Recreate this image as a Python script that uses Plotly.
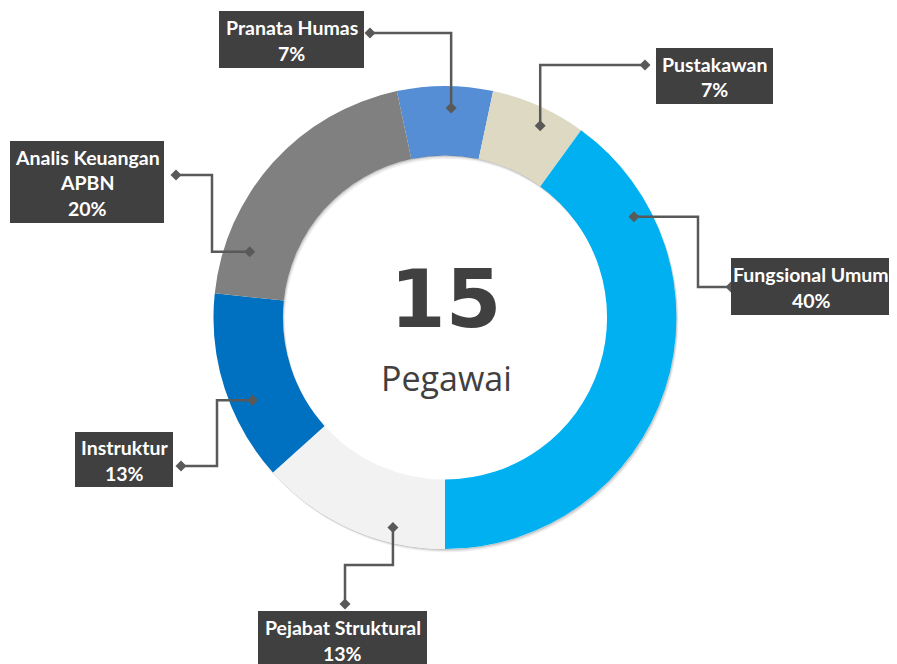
import math
import plotly.graph_objects as go

# ---------------- data ----------------
categories = ["Pranata Humas", "Pustakawan", "Fungsional Umum",
              "Pejabat Struktural", "Instruktur", "Analis Keuangan APBN"]
label_lines = [["Pranata Humas"], ["Pustakawan"], ["Fungsional Umum"],
               ["Pejabat Struktural"], ["Instruktur"], ["Analis Keuangan", "APBN"]]
values = [1, 1, 6, 2, 2, 3]
center_unit = "Pegawai"

# ---------------- style / layout ----------------
colors = ["#558ED5", "#DDD9C3", "#00B0F0", "#F2F2F2", "#0070C0", "#808080"]
W, H = 897, 664
OFF = 8  # page body margin of the html page
CX, CY, R = 445, 317.5, 231.5
HOLE = 0.70
BOX_COLOR = "#404040"
LINE_COLOR = "#595959"
TXT_DARK = "#404040"

# label placement (pixels): box, diamond tip, routing, anchor position in slice, text centre x
label_layout = [
    dict(box=(219, 364, 11, 68), tip=(370, 33), route=("vh", None), frac=0.57, rf=0.905, tcx=291.5),
    dict(box=(656, 773, 48, 104), tip=(645, 65), route=("vh", None), frac=0.60, rf=0.925, tcx=714.5),
    dict(box=(731, 905, 258, 315), tip=(731, 287), route=("hvh", 698), frac=0.18, rf=0.925, tcx=811),
    dict(box=(258, 427, 611, 672), tip=(345, 604), route=("vhv", 565), frac=0.29, rf=0.935, tcx=342.5),
    dict(box=(75, 173, 432, 487), tip=(181, 466), route=("hvh", 217), frac=0.39, rf=0.905, tcx=124),
    dict(box=(10, 164, 141, 223), tip=(176, 175), route=("hvh", 212), frac=0.175, rf=0.89, tcx=87),
]


def px(x):
    return (x - OFF) / W


def py(y):
    return 1 - (y - OFF) / H


total = sum(values)
rotation = -180.0 * values[0] / total  # first slice centred at 12 o'clock

fig = go.Figure()
fig.add_trace(go.Pie(
    labels=categories, values=values, sort=False, direction="clockwise",
    rotation=rotation, hole=HOLE, textinfo="none", hoverinfo="label+percent",
    marker=dict(colors=colors, line=dict(width=0)), showlegend=False,
    domain=dict(x=[px(CX - R), px(CX + R)], y=[py(CY + R), py(CY - R)]),
))

shapes = []
annotations = []


def crescent(ax, ay, bx, by, r, n=90):
    """disk a minus disk b (equal radius) as svg path in paper coords"""
    s = math.hypot(bx - ax, by - ay)
    d = math.atan2(by - ay, bx - ax)
    th = math.acos(min(1.0, s / (2 * r)))
    pts = []
    for i in range(n + 1):
        a = d + th + (2 * math.pi - 2 * th) * i / n
        pts.append((ax + r * math.cos(a), ay + r * math.sin(a)))
    for i in range(n + 1):
        a = d + math.pi + th - (2 * th) * i / n
        pts.append((bx + r * math.cos(a), by + r * math.sin(a)))
    return "M " + " L ".join(f"{px(x):.5f},{py(y):.5f}" for x, y in pts) + " Z"


# outer soft shadow (below the ring)
for off, op in [(1.0, 0.10), (2.0, 0.08), (3.2, 0.06)]:
    shapes.append(dict(type="path", xref="paper", yref="paper", layer="below",
                       path=crescent(CX + off * 0.6, CY + off, CX, CY, R),
                       fillcolor=f"rgba(0,0,0,{op})", line=dict(width=0)))
# inner shadow (inside the hole)
RIN = R * HOLE
for off, op in [(1.0, 0.10), (2.0, 0.08), (3.5, 0.06)]:
    shapes.append(dict(type="path", xref="paper", yref="paper", layer="above",
                       path=crescent(CX, CY, CX + off * 0.6, CY + off, RIN),
                       fillcolor=f"rgba(0,0,0,{op})", line=dict(width=0)))


def diamond(x, y, h=5.5):
    return (f"M {px(x):.5f},{py(y - h):.5f} L {px(x + h):.5f},{py(y):.5f} "
            f"L {px(x):.5f},{py(y + h):.5f} L {px(x - h):.5f},{py(y):.5f} Z")


cum = 0
for i, (v, lines, lay) in enumerate(zip(values, label_lines, label_layout)):
    start = rotation + 360.0 * cum / total
    span = 360.0 * v / total
    cum += v
    ang = math.radians(start + lay["frac"] * span)
    ax = CX + lay["rf"] * R * math.sin(ang)
    ay = CY - lay["rf"] * R * math.cos(ang)
    tx, ty = lay["tip"]
    kind, mid = lay["route"]
    if kind == "vh":
        pts = [(ax, ay), (ax, ty), (tx, ty)]
    elif kind == "hvh":
        pts = [(ax, ay), (mid, ay), (mid, ty), (tx, ty)]
    else:
        pts = [(ax, ay), (ax, mid), (tx, mid), (tx, ty)]
    path = "M " + " L ".join(f"{px(x):.5f},{py(y):.5f}" for x, y in pts)
    shapes.append(dict(type="path", xref="paper", yref="paper", path=path,
                       line=dict(color=LINE_COLOR, width=2.5)))
    shapes.append(dict(type="path", xref="paper", yref="paper", path=diamond(ax, ay),
                       fillcolor=LINE_COLOR, line=dict(width=0)))
    shapes.append(dict(type="path", xref="paper", yref="paper", path=diamond(tx, ty),
                       fillcolor=LINE_COLOR, line=dict(width=0)))

    x0, x1, y0, y1 = lay["box"]
    shapes.append(dict(type="rect", xref="paper", yref="paper",
                       x0=px(x0), x1=px(x1), y0=py(y1), y1=py(y0),
                       fillcolor=BOX_COLOR, line=dict(width=0)))
    pct = f"{round(100 * v / total)}%"
    all_lines = lines + [pct]
    n = len(all_lines)
    bcx = lay["tcx"]
    bcy = (y0 + min(y1, y0 + 57 + 25 * (n - 2))) / 2 + 1
    for k, t in enumerate(all_lines):
        annotations.append(dict(
            x=px(bcx), y=py(bcy + (k - (n - 1) / 2) * 25.5), xref="paper", yref="paper",
            text=t, showarrow=False, xanchor="center", yanchor="middle",
            font=dict(family="Lato", size=19.5, color="white", weight="bold")))

# centre text
annotations.append(dict(x=px(CX), y=py(300), xref="paper", yref="paper",
                        text=str(total), showarrow=False, xanchor="center", yanchor="middle",
                        font=dict(family="DejaVu Sans", size=80, color=TXT_DARK, weight="bold")))
annotations.append(dict(x=px(CX + 1), y=py(378), xref="paper", yref="paper",
                        text=center_unit, showarrow=False, xanchor="center", yanchor="middle",
                        font=dict(family="Open Sans", size=34, color=TXT_DARK)))

fig.update_layout(width=W, height=H, autosize=False,
                  margin=dict(l=0, r=0, t=0, b=0),
                  paper_bgcolor="white", plot_bgcolor="white",
                  shapes=shapes, annotations=annotations)

fig.write_html("out.html")
